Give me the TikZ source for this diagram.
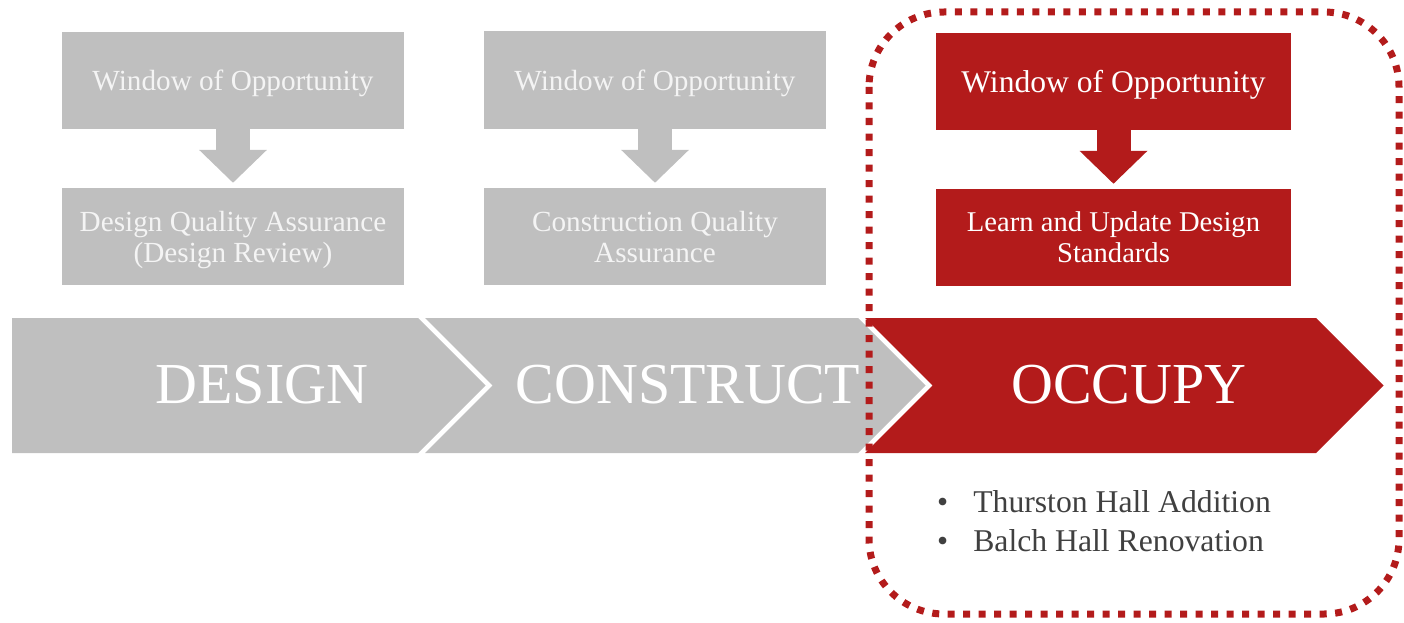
\documentclass[tikz,border=0pt]{standalone}
\usepackage{fontspec}
\setmainfont{Liberation Serif}
\usetikzlibrary{arrows.meta}

\definecolor{cured}{HTML}{B31B1B}
\definecolor{phasegrey}{HTML}{BFBFBF}
\definecolor{boxtext}{HTML}{F4F4F4}
\definecolor{listgrey}{HTML}{404040}

\begin{document}
\begin{tikzpicture}[
    x=1pt, y=-1pt,
    greybox/.style={
      rectangle,
      fill=phasegrey,
      text=boxtext,
      inner sep=0pt,
      text depth=0pt,
      minimum width=342pt,
      minimum height=97pt,
      align=center,
      font=\fontsize{29.2}{31}\selectfont
    },
    redbox/.style={greybox, fill=cured, text=white, minimum width=355pt},
    downarrow/.style={
      line width=34pt,
      -{Triangle[width=66pt,length=33pt]},
      shorten >=5pt
    },
    phase/.style={text=white, inner sep=0pt, font=\fontsize{58}{60}\selectfont},
    dotted frame/.style={
      cured,
      line width=7pt,
      dash pattern=on 7pt off 8.5pt,
      rounded corners=75pt
    }
  ]

  \useasboundingbox (0,0) rectangle (1404,623);

  % phase band
  \fill[phasegrey] (12,318) -- (418,318) -- (485.5,385.5) -- (418,453) -- (12,453) -- cycle;
  \fill[phasegrey] (425,318) -- (858,318) -- (925.5,385.5) -- (858,453) -- (425,453) -- (492.5,385.5) -- cycle;
  \fill[cured] (865,318) -- (1316,318) -- (1383.5,385.5) -- (1316,453) -- (865,453) -- (932.5,385.5) -- cycle;

  \node (design) at (262,385) [phase]{DESIGN};
  \node (construct) at (688,385) [phase]{CONSTRUCT};
  \node (occupy) at (1129,385) [phase]{OCCUPY};

  % windows of opportunity
  \node (win1) at (233,80.5) [greybox]{Window of Opportunity};
  \node (win2) at (655,80) [greybox]{Window of Opportunity};
  \node (win3) at (1113.5,81.5) [redbox,font=\fontsize{31.6}{33}\selectfont]{Window of Opportunity};

  \node (dqa) at (233,236.5) [greybox]{Design Quality Assurance\\(Design Review)};
  \node (cqa) at (655,236.5) [greybox]{Construction Quality\\Assurance};
  \node (lud) at (1113.5,237.5) [redbox,font=\fontsize{28.6}{31}\selectfont]{Learn and Update Design\\Standards};

  \draw[downarrow, phasegrey] (win1) -- (dqa);
  \draw[downarrow, phasegrey] (win2) -- (cqa);
  \draw[downarrow, cured] (win3) -- (lud);

  % projects
  \node (projects) at (937,484.7) [anchor=north west, inner sep=0pt, text=listgrey,
    font=\fontsize{31.7}{39}\selectfont]{%
    \begin{tabular}{@{}l@{\hspace{25pt}}l@{}}
      \textbullet & Thurston Hall Addition\\
      \textbullet & Balch Hall Renovation
    \end{tabular}};

  \draw[dotted frame] (869,12) rectangle (1399,614);

\end{tikzpicture}
\end{document}
